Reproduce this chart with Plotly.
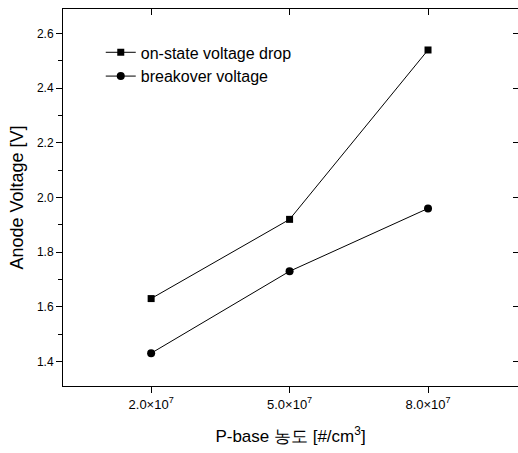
import plotly.graph_objects as go

x_vals = [2e7, 5e7, 8e7]
x_ticklabels = ["2.0×10<sup>7</sup>", "5.0×10<sup>7</sup>", "8.0×10<sup>7</sup>"]
on_state = [1.63, 1.92, 2.54]
breakover = [1.43, 1.73, 1.96]
y_ticks = [1.4, 1.6, 1.8, 2.0, 2.2, 2.4, 2.6]

font_family = "Liberation Sans, Arial, sans-serif"
x_range = [0.09e7, 9.95e7]
y_range = [1.31, 2.69]

fig = go.Figure()
fig.add_trace(go.Scatter(
    x=x_vals, y=on_state, mode="lines+markers", name="on-state voltage drop",
    line=dict(color="black", width=1),
    marker=dict(symbol="square", size=7, color="black"),
))
fig.add_trace(go.Scatter(
    x=x_vals, y=breakover, mode="lines+markers", name="breakover voltage",
    line=dict(color="black", width=1),
    marker=dict(symbol="circle", size=8, color="black"),
))
# invisible trace to activate the mirror axes
fig.add_trace(go.Scatter(x=x_vals, y=on_state, xaxis="x2", yaxis="y2",
                         mode="none", showlegend=False, hoverinfo="skip"))

fig.update_layout(
    width=518, height=453,
    margin=dict(l=63, r=0, t=9, b=67),
    paper_bgcolor="white", plot_bgcolor="white",
    font=dict(family=font_family, color="black"),
    showlegend=True,
    legend=dict(x=0.083, y=0.93, xanchor="left", yanchor="top",
                bgcolor="rgba(0,0,0,0)", font=dict(size=16),
                tracegroupgap=0, itemwidth=30),
    xaxis=dict(
        range=x_range, tickvals=x_vals, ticktext=x_ticklabels,
        showgrid=False, zeroline=False, showline=True, linecolor="black",
        linewidth=1, ticks="outside", ticklen=6, tickcolor="black",
        tickfont=dict(size=13),
        title=dict(text="P-base 농도 [#/cm<sup>3</sup>]", font=dict(size=17), standoff=19),
    ),
    yaxis=dict(
        range=y_range, tickvals=y_ticks, tickformat=".1f",
        showgrid=False, zeroline=False, showline=True, linecolor="black",
        linewidth=1, ticks="outside", ticklen=6, tickcolor="black",
        tickfont=dict(size=12),
        minor=dict(ticks="outside", ticklen=4, tickcolor="black", dtick=0.1, tick0=1.3),
        title=dict(text="Anode Voltage [V]", font=dict(size=18), standoff=8),
    ),
    xaxis2=dict(
        range=x_range, tickvals=x_vals, overlaying="x", side="top",
        showticklabels=False, showgrid=False, zeroline=False, showline=True,
        linecolor="black", linewidth=1, ticks="inside", ticklen=6, tickcolor="black",
    ),
    yaxis2=dict(
        range=y_range, tickvals=y_ticks, overlaying="y", side="right",
        showticklabels=False, showgrid=False, zeroline=False, showline=False,
        ticks="inside", ticklen=5, tickcolor="black",
    ),
)

fig.write_html("out.html", config={"displayModeBar": False},
               post_script="document.body.style.margin='0';")
